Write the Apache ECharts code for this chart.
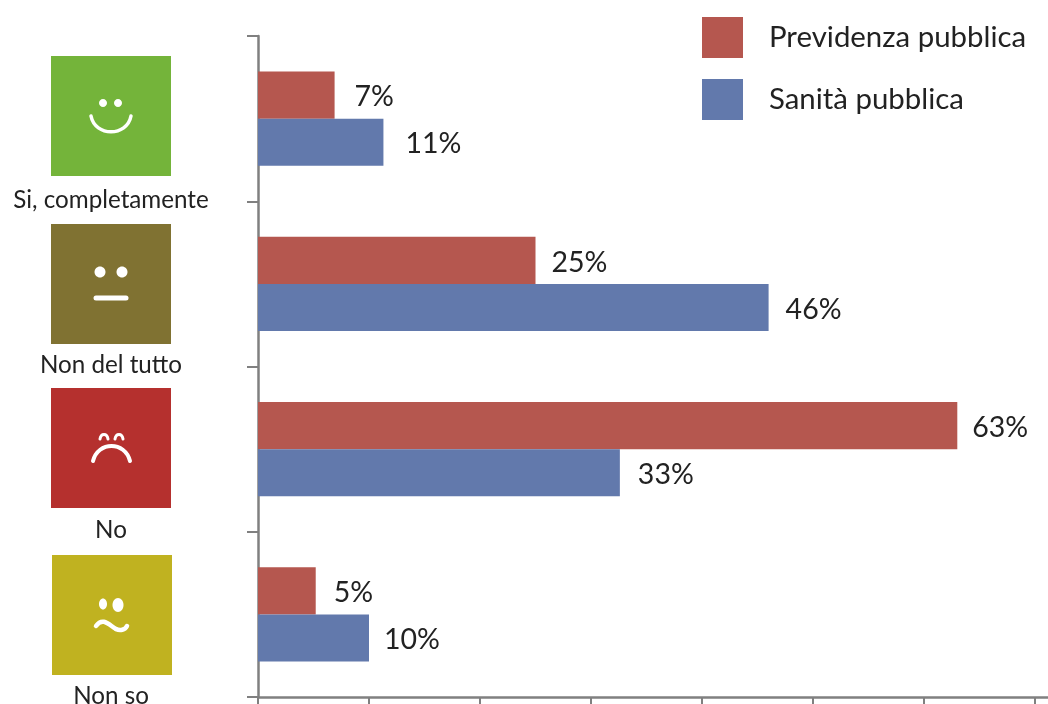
<!DOCTYPE html>
<html>
<head>
<meta charset="utf-8">
<style>html,body{margin:0;padding:0;background:#fff;overflow:hidden}#c{width:1048px;height:704px}</style>
<script src="https://cdn.jsdelivr.net/npm/echarts@6/dist/echarts.min.js"></script>
</head>
<body>
<div id="c"></div>
<script>
const categories = ['Si, completamente', 'Non del tutto', 'No', 'Non so'];
const previdenza = [6.9, 25, 63, 5.2];
const sanita = [11.3, 46, 32.6, 10];
const previdenzaLabels = ['7%', '25%', '63%', '5%'];
const sanitaLabels = ['11%', '46%', '33%', '10%'];
const previdenzaGaps = [20, 16, 15, 18];
const sanitaGaps = [22, 17, 18, 15];

const FONT = 'Lato';
const TEXT = '#222';
const AXIS = '#808080';
const white = {stroke: '#fff', fill: null, lineWidth: 3.5, lineCap: 'round'};

function square(x, y, color) {
  return {type: 'rect', shape: {x: x, y: y, width: 120, height: 120}, style: {fill: color}};
}
function dot(cx, cy, rx, ry) {
  return {type: 'ellipse', shape: {cx: cx, cy: cy, rx: rx, ry: ry}, style: {fill: '#fff'}};
}
function curve(x1, y1, c1x, c1y, c2x, c2y, x2, y2, w) {
  return {type: 'bezierCurve',
    shape: {x1: x1, y1: y1, cpx1: c1x, cpy1: c1y, cpx2: c2x, cpy2: c2y, x2: x2, y2: y2},
    style: Object.assign({}, white, {lineWidth: w})};
}

const decor = [
  square(51, 56, '#74B43A'),
  dot(103, 103, 4, 4), dot(118, 103, 4, 4),
  curve(91, 116, 95, 137, 127, 137, 131, 116, 3.5),
  square(51, 224, '#807232'),
  dot(100, 272, 5.5, 5.5), dot(122, 272, 5.5, 5.5),
  {type: 'line', shape: {x1: 96, y1: 298, x2: 126, y2: 298}, style: Object.assign({}, white, {lineWidth: 5})},
  square(51, 388, '#B5302E'),
  curve(100, 439, 101, 433, 107, 433, 108, 439, 3),
  curve(115, 439, 116, 433, 122, 433, 123, 439, 3),
  curve(93, 461, 98, 441, 125, 441, 130, 461, 4),
  square(52, 555, '#C0B220'),
  dot(103, 604, 4, 5.5), dot(118, 605, 5.5, 7),
  curve(96, 626, 103, 616, 110, 626, 116, 629, 4.5),
  curve(116, 629, 120, 631, 125, 630, 127, 626, 4.5)
];

const chart = echarts.init(document.getElementById('c'), null, {renderer: 'canvas', width: 1048, height: 704});

function series(name, values, labels, gaps, color) {
  return {
    name: name,
    type: 'bar',
    barGap: 0,
    barCategoryGap: '43%',
    itemStyle: {color: color},
    data: values.map((v, i) => ({
      value: v,
      label: {
        show: true, position: 'right', distance: gaps[i], offset: [0, 2],
        formatter: labels[i],
        fontFamily: FONT, fontSize: 28.5, color: TEXT
      }
    }))
  };
}

chart.setOption({
  animation: false,
  backgroundColor: '#fff',
  textStyle: {fontFamily: FONT},
  grid: {left: 258, top: 36, width: 888, height: 661, containLabel: false, outerBoundsMode: 'none'},
  legend: {
    orient: 'vertical', left: 702, top: 17, padding: 0,
    itemWidth: 41, itemHeight: 41, itemGap: 21,
    icon: 'rect',
    selectedMode: false,
    textStyle: {fontFamily: FONT, fontSize: 29.4, color: TEXT, padding: [0, 0, 0, 21]},
    data: ['Previdenza pubblica', 'Sanità pubblica']
  },
  xAxis: {
    type: 'value', min: 0, max: 80, interval: 10,
    axisLine: {show: true, onZero: false, lineStyle: {color: AXIS, width: 2.5}},
    axisTick: {show: true, length: 8, lineStyle: {color: AXIS, width: 2}},
    axisLabel: {show: false},
    splitLine: {show: false}
  },
  yAxis: {
    type: 'category', inverse: true, data: categories,
    axisLine: {show: true, onZero: false, lineStyle: {color: AXIS, width: 2.5}},
    axisTick: {show: true, length: 11, lineStyle: {color: AXIS, width: 2}},
    axisLabel: {
      show: true, margin: 147, align: 'center', verticalAlign: 'top',
      lineHeight: 163, hideOverlap: false, interval: 0,
      fontFamily: FONT, fontSize: 24.2, color: TEXT
    }
  },
  series: [
    series('Previdenza pubblica', previdenza, previdenzaLabels, previdenzaGaps, '#B5574F'),
    series('Sanità pubblica', sanita, sanitaLabels, sanitaGaps, '#6279AC')
  ],
  graphic: {elements: decor}
});
</script>
</body>
</html>
